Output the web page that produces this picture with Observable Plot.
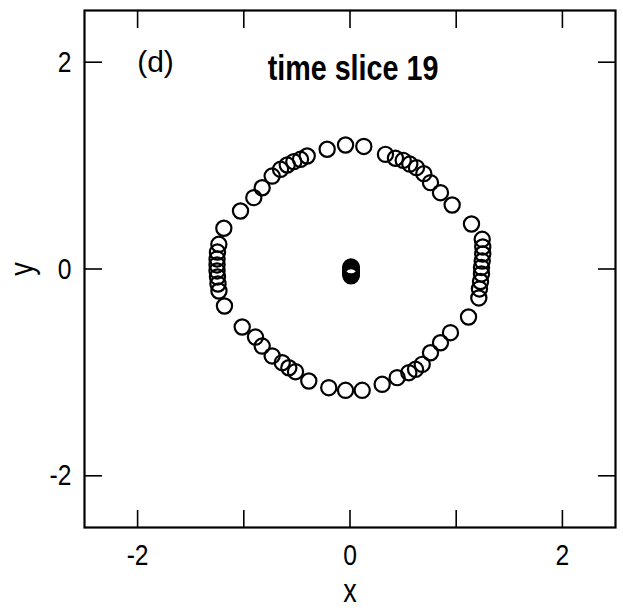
<!DOCTYPE html>
<html>
<head>
<meta charset="utf-8">
<script src="https://cdn.jsdelivr.net/npm/d3@7"></script>
<script src="https://cdn.jsdelivr.net/npm/@observablehq/plot@0.6"></script>
<style>
  html, body { margin: 0; padding: 0; background: #fff; }
  #chart svg { display: block; }
</style>
</head>
<body>
<div id="chart"></div>
<script>
// Particle positions on the ring at time slice 19
const ringX = [-0.215, -0.042, 0.130, 0.334, 0.428, 0.501, 0.563, 0.626, 0.695, 0.758,
  0.852, 0.962, 1.144, 1.245, 1.250, 1.250, 1.245, 1.238, 1.238, 1.229,
  1.219, 1.213, 1.116, 0.946, 0.852, 0.758, 0.680, 0.617, 0.554, 0.444,
  0.303, 0.115, -0.042, -0.200, -0.388, -0.513, -0.576, -0.638, -0.733, -0.827,
  -0.890, -1.015, -1.182, -1.234, -1.243, -1.248, -1.252, -1.252, -1.252, -1.248,
  -1.235, -1.188, -1.031, -0.906, -0.827, -0.733, -0.654, -0.591, -0.529, -0.466,
  -0.403];
const ringY = [1.158, 1.199, 1.185, 1.109, 1.071, 1.051, 1.015, 0.980, 0.922, 0.835,
  0.738, 0.619, 0.435, 0.287, 0.213, 0.145, 0.077, 0.015, -0.048, -0.121,
  -0.193, -0.280, -0.464, -0.616, -0.713, -0.810, -0.922, -0.970, -1.003, -1.051,
  -1.115, -1.173, -1.173, -1.148, -1.083, -0.993, -0.955, -0.906, -0.841, -0.745,
  -0.658, -0.561, -0.358, -0.213, -0.145, -0.077, -0.019, 0.039, 0.097, 0.164,
  0.239, 0.394, 0.561, 0.690, 0.786, 0.899, 0.964, 1.006, 1.038, 1.061,
  1.093];

// Particles bunched together at the origin
const coreX = [0.010, 0.008, 0.012, 0.009, 0.011, 0.010, 0.008, 0.012, 0.010, 0.009, 0.011, 0.010];
const coreY = [0.021, 0.013, 0.005, -0.003, -0.011, -0.019, -0.027, -0.035, -0.043, -0.051, -0.059, -0.066];

// Axes
const xTicks = [-2, -1, 0, 1, 2];
const xTickLabels = ["-2", "", "0", "", "2"];
const yTicks = [-2, 0, 2];
const yTickLabels = ["-2", "0", "2"];
const xLabel = "x";
const yLabel = "y";
const panelLabel = "(d)";
const titleText = "time slice 19";

const font = "'Liberation Sans Narrow', 'Arial Narrow', 'Liberation Sans', Arial, sans-serif";

const ring = ringX.map((x, i) => ({x, y: ringY[i]}));
const core = coreX.map((x, i) => ({x, y: coreY[i]}));
const fmtX = d => xTickLabels[xTicks.indexOf(d)];
const fmtY = d => yTickLabels[yTicks.indexOf(d)];

const chart = Plot.plot({
  width: 623,
  height: 608,
  marginLeft: 84,
  marginRight: 8,
  marginTop: 10,
  marginBottom: 81,
  style: {fontFamily: font, fontSize: "30px", color: "black", background: "white"},
  x: {domain: [-2.5, 2.5]},
  y: {domain: [-2.5, 2.5]},
  marks: [
    Plot.frame({stroke: "black", strokeWidth: 2.2}),
    Plot.axisX(xTicks, {anchor: "bottom", tickSize: -17, tickPadding: 33, tickFormat: fmtX, label: null, strokeWidth: 1.6, fontSize: 30}),
    Plot.axisX(xTicks, {anchor: "top", tickSize: -17, fill: "none", label: null, strokeWidth: 1.6}),
    Plot.axisY(yTicks, {anchor: "left", tickSize: -18, tickPadding: 31, tickFormat: fmtY, label: null, strokeWidth: 1.6, fontSize: 30}),
    Plot.axisY(yTicks, {anchor: "right", tickSize: -18, fill: "none", label: null, strokeWidth: 1.6}),
    Plot.dot(ring, {x: "x", y: "y", r: 7.6, stroke: "black", strokeWidth: 2.2}),
    Plot.dot(core, {x: "x", y: "y", r: 7.6, stroke: "black", strokeWidth: 2.2}),
    Plot.text([panelLabel], {frameAnchor: "top-left", textAnchor: "middle", lineAnchor: "middle", dx: 71, dy: 52, fontSize: 30}),
    Plot.text([titleText], {frameAnchor: "top", textAnchor: "middle", lineAnchor: "middle", dx: 3, dy: 58, fontSize: 35, fontWeight: "bold"}),
    Plot.text([xLabel], {frameAnchor: "bottom", textAnchor: "middle", lineAnchor: "middle", dy: 64, fontSize: 33}),
    Plot.text([yLabel], {frameAnchor: "left", textAnchor: "middle", lineAnchor: "middle", dx: -62, rotate: -90, fontSize: 33})
  ]
});

document.getElementById("chart").appendChild(chart);

// Narrow-set lettering: squeeze every label except the panel tag horizontally
chart.querySelectorAll("text").forEach(t => {
  if (t.textContent === panelLabel) return;
  const w = t.getComputedTextLength();
  if (w > 0) {
    t.setAttribute("textLength", (w * 0.82).toFixed(1));
    t.setAttribute("lengthAdjust", "spacingAndGlyphs");
  }
});
</script>
</body>
</html>
